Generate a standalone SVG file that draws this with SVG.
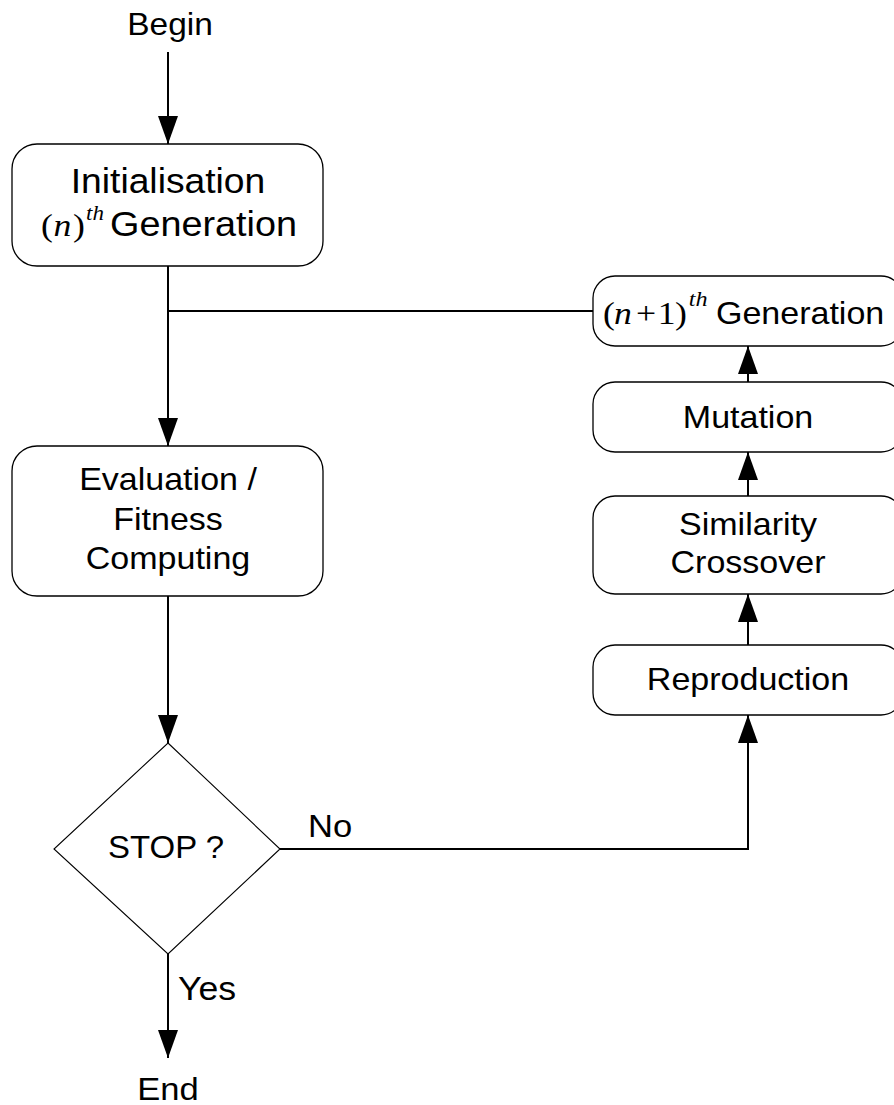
<svg xmlns="http://www.w3.org/2000/svg" width="894" height="1105" viewBox="0 0 894 1105">
<style>
.box{fill:#fff;stroke:#000;stroke-width:1.3}
.dia{fill:#fff;stroke:#000;stroke-width:1.1}
.conn{fill:none;stroke:#000;stroke-width:2}
.t{font-family:"Liberation Sans",Arial,Helvetica,sans-serif;fill:#000}
.m{font-family:"Liberation Serif","Times New Roman",serif;fill:#000}
.i{font-style:italic}
</style>
<defs>
<marker id="ah" markerUnits="userSpaceOnUse" markerWidth="28" markerHeight="20" refX="28" refY="10" orient="auto">
<path d="M0,0 L28,10 L0,20 z" fill="#000"/>
</marker>
</defs>
<rect width="894" height="1105" fill="#fff"/>
<g id="connectors">
<line class="conn" x1="168" y1="52" x2="168" y2="144" marker-end="url(#ah)"/>
<line class="conn" x1="168" y1="266" x2="168" y2="446" marker-end="url(#ah)"/>
<line class="conn" x1="168" y1="311" x2="593" y2="311" stroke-width="1.6"/>
<line class="conn" x1="168" y1="596" x2="168" y2="743" marker-end="url(#ah)"/>
<polyline class="conn" points="280,849 748,849 748,715" marker-end="url(#ah)"/>
<line class="conn" x1="748" y1="645" x2="748" y2="594" marker-end="url(#ah)"/>
<line class="conn" x1="748" y1="496" x2="748" y2="452" marker-end="url(#ah)"/>
<line class="conn" x1="748" y1="382" x2="748" y2="346" marker-end="url(#ah)"/>
<line class="conn" x1="168" y1="954" x2="168" y2="1058" marker-end="url(#ah)"/>
</g>
<g id="begin"><text class="t" font-size="31" text-anchor="middle" transform="translate(170,35) scale(1.08,1)">Begin</text></g>
<g id="init">
<rect class="box" x="12" y="144" width="311" height="122" rx="25"/>
<text class="t" font-size="34.5" text-anchor="middle" transform="translate(168,193) scale(1.08,1)">Initialisation</text>
<text class="m" font-size="31" transform="translate(0,236) scale(1.15,1)"><tspan x="35.7">(</tspan><tspan class="i" x="46.5">n</tspan><tspan x="63.5">)</tspan><tspan class="i" x="74.8" y="-16" font-size="20">th</tspan></text>
<text class="t" font-size="35" transform="translate(110,236) scale(1.08,1)">Generation</text>
</g>
<g id="eval">
<rect class="box" x="12" y="446" width="311" height="150" rx="25"/>
<text class="t" font-size="31.5" text-anchor="middle" transform="translate(168,490) scale(1.08,1)">Evaluation /</text>
<text class="t" font-size="31.5" text-anchor="middle" transform="translate(168,530) scale(1.08,1)">Fitness</text>
<text class="t" font-size="31.5" text-anchor="middle" transform="translate(168,569) scale(1.08,1)">Computing</text>
</g>
<g id="stop">
<polygon class="dia" points="168,743 280,849 168,954 54,849"/>
<text class="t" font-size="30.5" text-anchor="middle" transform="translate(166,858) scale(1.08,1)">STOP ?</text>
</g>
<g id="labels">
<text class="t" font-size="32" transform="translate(308,837) scale(1.08,1)">No</text>
<text class="t" font-size="33" transform="translate(178,1000) scale(1.08,1)">Yes</text>
</g>
<g id="end"><text class="t" font-size="32" text-anchor="middle" transform="translate(168,1100) scale(1.08,1)">End</text></g>
<g id="nextgen">
<rect class="box" x="593" y="276" width="310" height="70" rx="22"/>
<text class="m" font-size="31" transform="translate(0,324) scale(1.15,1)"><tspan x="524.3">(</tspan><tspan class="i" x="534">n</tspan><tspan x="553">+</tspan><tspan x="572">1</tspan><tspan x="587">)</tspan><tspan class="i" x="599" y="-18" font-size="21">th</tspan></text>
<text class="t" font-size="31.5" transform="translate(716,324) scale(1.08,1)">Generation</text>
</g>
<g id="mutation">
<rect class="box" x="593" y="382" width="310" height="70" rx="22"/>
<text class="t" font-size="31.5" text-anchor="middle" transform="translate(748,428) scale(1.08,1)">Mutation</text>
</g>
<g id="crossover">
<rect class="box" x="593" y="496" width="310" height="98" rx="22"/>
<text class="t" font-size="31.5" text-anchor="middle" transform="translate(748,535) scale(1.08,1)">Similarity</text>
<text class="t" font-size="31.5" text-anchor="middle" transform="translate(748,573) scale(1.08,1)">Crossover</text>
</g>
<g id="reproduction">
<rect class="box" x="593" y="645" width="310" height="70" rx="22"/>
<text class="t" font-size="31.5" text-anchor="middle" transform="translate(748,690) scale(1.08,1)">Reproduction</text>
</g>
</svg>
